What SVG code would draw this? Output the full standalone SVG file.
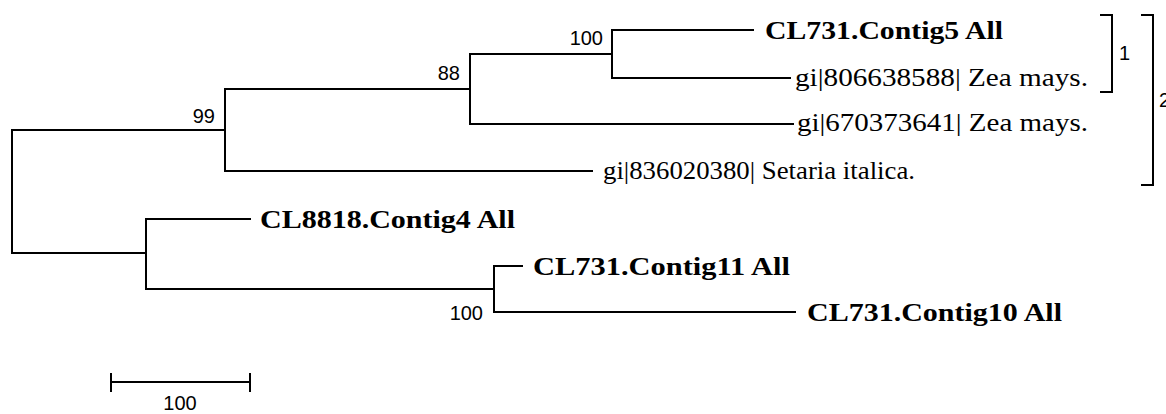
<svg xmlns="http://www.w3.org/2000/svg" width="1166" height="414" viewBox="0 0 1166 414">
<style>
.br{fill:none;stroke:#000;stroke-width:2;stroke-linecap:square}
.lb{font-family:"Liberation Serif","Times New Roman",serif;font-size:25px;fill:#000}
.b{font-weight:bold}
.n{font-family:"Liberation Sans",Arial,sans-serif;font-size:20px;fill:#000}
</style>
<rect width="1166" height="414" fill="#fff"/>
<g id="connectors">
<path class="br" d="M12,130V253M12,130H225M12,253H146"/>
<path class="br" d="M225,89V171M225,89H470M225,171H592"/>
<path class="br" d="M470,54V124M470,54H612M470,124H793"/>
<path class="br" d="M612,30V78M612,30H753M612,78H790"/>
<path class="br" d="M146,219V289M146,219H250M146,289H494"/>
<path class="br" d="M494,266V312M494,266H522M494,312H795"/>
</g>
<g id="leaf-contig5"><text class="lb b" x="765" y="39" textLength="238" lengthAdjust="spacingAndGlyphs">CL731.Contig5 All</text></g>
<g id="leaf-806638588"><text class="lb" x="795" y="86" textLength="293" lengthAdjust="spacingAndGlyphs">gi|806638588| Zea mays.</text></g>
<g id="leaf-670373641"><text class="lb" x="797" y="131" textLength="291" lengthAdjust="spacingAndGlyphs">gi|670373641| Zea mays.</text></g>
<g id="leaf-836020380"><text class="lb" x="603" y="179" textLength="312" lengthAdjust="spacingAndGlyphs">gi|836020380| Setaria italica.</text></g>
<g id="leaf-contig4"><text class="lb b" x="260" y="228" textLength="255" lengthAdjust="spacingAndGlyphs">CL8818.Contig4 All</text></g>
<g id="leaf-contig11"><text class="lb b" x="533" y="275" textLength="257" lengthAdjust="spacingAndGlyphs">CL731.Contig11 All</text></g>
<g id="leaf-contig10"><text class="lb b" x="807" y="321" textLength="255" lengthAdjust="spacingAndGlyphs">CL731.Contig10 All</text></g>
<g id="bootstraps">
<text class="n" x="603" y="45" text-anchor="end">100</text>
<text class="n" x="460" y="80" text-anchor="end">88</text>
<text class="n" x="215" y="123" text-anchor="end">99</text>
<text class="n" x="483" y="320" text-anchor="end">100</text>
</g>
<g id="bracket-1"><path class="br" d="M1101,15H1112V92H1101"/><text class="n" x="1119" y="60">1</text></g>
<g id="bracket-2"><path class="br" d="M1142,15H1153V185H1142"/><text class="n" x="1159" y="107">2</text></g>
<g id="scale"><path class="br" d="M111,382H250M111,374V391M250,374V391"/><text class="n" x="180" y="410" text-anchor="middle">100</text></g>
</svg>
